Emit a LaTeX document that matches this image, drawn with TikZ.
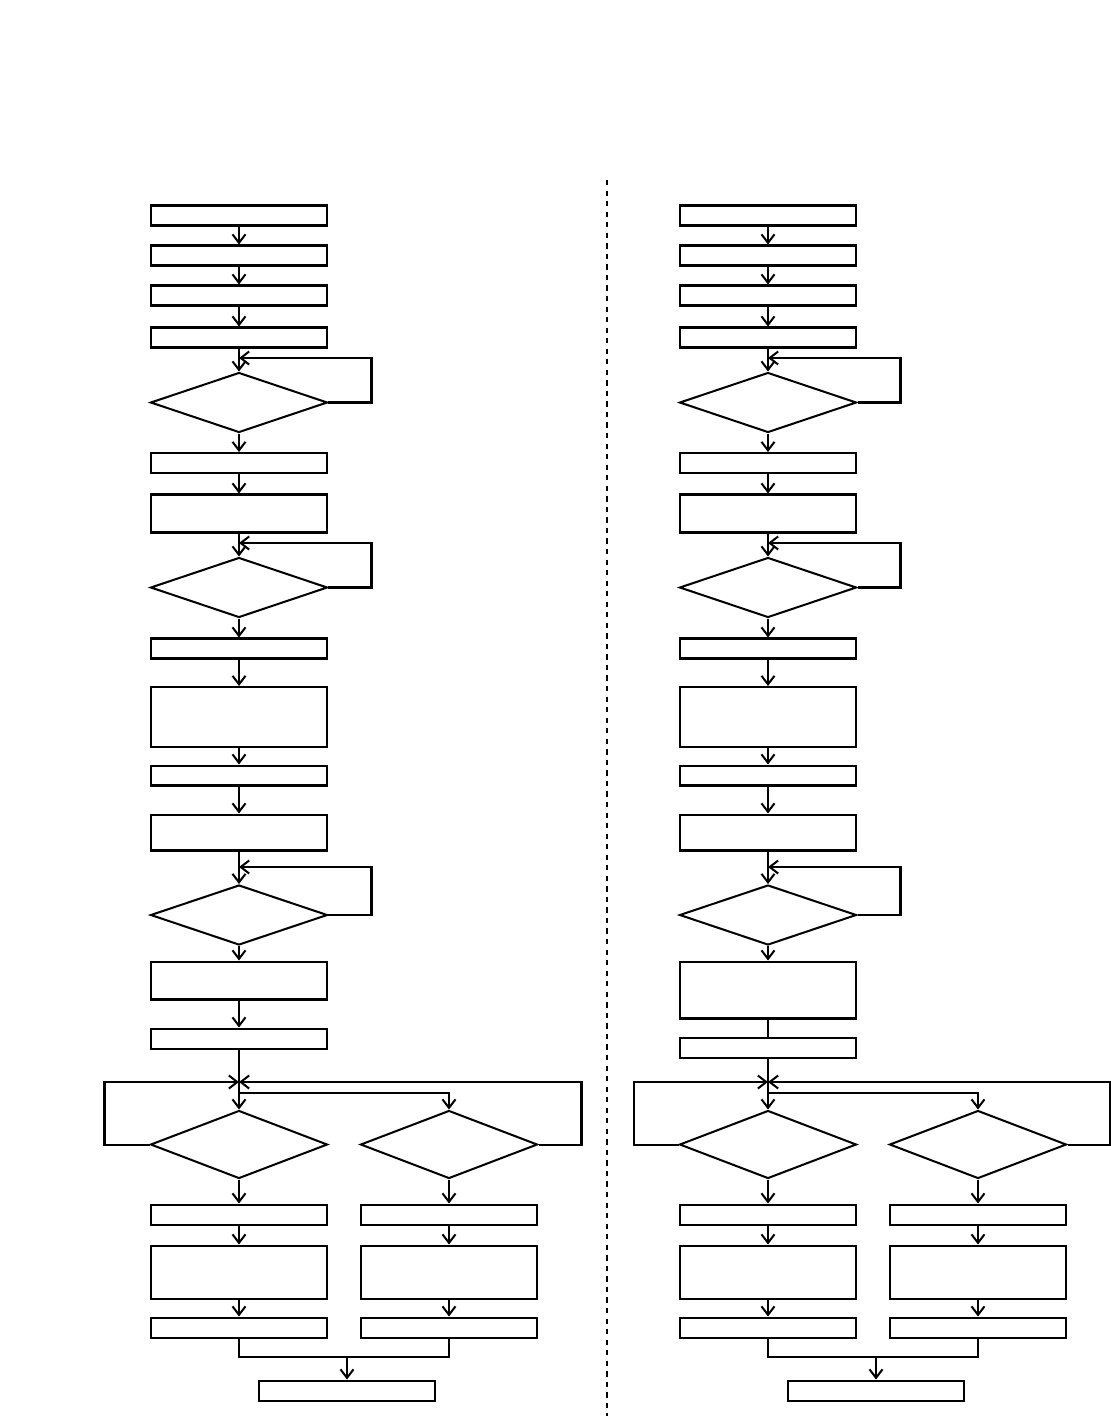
\documentclass[tikz,border=0pt]{standalone}
\usetikzlibrary{shapes.geometric, arrows.meta}

\begin{document}
\begin{tikzpicture}[
        x=0.02cm, y=-0.02cm,
        box/.style={draw, line width=1.15pt, minimum width=3.52cm, minimum height=0.4cm, inner sep=0pt},
        decision/.style={draw, diamond, line width=1.15pt, minimum width=3.54cm, minimum height=1.2cm, inner sep=0pt},
        flow/.style={-{Straight Barb[length=1.7mm, width=2.6mm]}, line width=1.15pt},
        link/.style={line width=1.15pt},
        divider/.style={dashed, line width=0.9pt}
    ]
        \path[use as bounding box] (0, 0) rectangle (1111, 1416);

        % left column
        \node[box] (L1) at (239, 215.5) {};
        \node[box] (L2) at (239, 255.5) {};
        \node[box] (L3) at (239, 295.5) {};
        \node[box] (L4) at (239, 337.5) {};
        \node[decision] (Ld1) at (239, 402.5) {};
        \node[box] (L5) at (239, 463) {};
        \node[box, minimum height=0.76cm] (L6) at (239, 513.5) {};
        \node[decision] (Ld2) at (239, 587.5) {};
        \node[box] (L7) at (239, 648.5) {};
        \node[box, minimum height=1.2cm] (L8) at (239, 717) {};
        \node[box] (L9) at (239, 775.5) {};
        \node[box, minimum height=0.72cm] (L10) at (239, 832.5) {};
        \node[decision] (Ld3) at (239, 915) {};
        \node[box, minimum height=0.76cm] (L11) at (239, 980.5) {};
        \node[box] (L12) at (239, 1038.5) {};
        \node[decision, minimum height=1.36cm] (Ld4) at (239, 1144.5) {};
        \node[decision, minimum height=1.36cm] (Ld5) at (449, 1144.5) {};
        \node[box] (La1) at (239, 1214.5) {};
        \node[box, minimum height=1.06cm] (La2) at (239, 1272) {};
        \node[box] (La3) at (239, 1327.5) {};
        \node[box] (Lb1) at (449, 1214.5) {};
        \node[box, minimum height=1.06cm] (Lb2) at (449, 1272) {};
        \node[box] (Lb3) at (449, 1327.5) {};
        \node[box] (Lend) at (347, 1390.5) {};

        \coordinate (Lj1) at (239, 358);
        \coordinate (Lj2) at (239, 543);
        \coordinate (Lj3) at (239, 867);
        \coordinate (Lm) at (239, 1082);
        \coordinate (Lf) at (239, 1093);
        \coordinate (Lg) at (347, 1357);

        \draw[flow] (L1) -- (L2);
        \draw[flow] (L2) -- (L3);
        \draw[flow] (L3) -- (L4);
        \draw[flow] (L4) -- (Ld1);
        \draw[flow] (Ld1.east) -- ++(43, 0) |- (Lj1);
        \draw[flow] (Ld1) -- (L5);
        \draw[flow] (L5) -- (L6);
        \draw[flow] (L6) -- (Ld2);
        \draw[flow] (Ld2.east) -- ++(43, 0) |- (Lj2);
        \draw[flow] (Ld2) -- (L7);
        \draw[flow] (L7) -- (L8);
        \draw[flow] (L8) -- (L9);
        \draw[flow] (L9) -- (L10);
        \draw[flow] (L10) -- (Ld3);
        \draw[flow] (Ld3.east) -- ++(43, 0) |- (Lj3);
        \draw[flow] (Ld3) -- (L11);
        \draw[flow] (L11) -- (L12);
        \draw[flow] (L12) -- (Ld4);
        \draw[flow] (Ld4.west) -- ++(-45, 0) |- (Lm);
        \draw[flow] (Ld5.east) -- ++(43, 0) |- (Lm);
        \draw[flow] (Lf) -| (Ld5.north);
        \draw[flow] (Ld4) -- (La1);
        \draw[flow] (La1) -- (La2);
        \draw[flow] (La2) -- (La3);
        \draw[flow] (Ld5) -- (Lb1);
        \draw[flow] (Lb1) -- (Lb2);
        \draw[flow] (Lb2) -- (Lb3);
        \draw[link] (La3.south) |- (Lg) -| (Lb3.south);
        \draw[flow] (Lg) -- (Lend);

        % separator
        \coordinate (top) at (607, 180);
        \coordinate (bottom) at (607, 1416);
        \draw[divider] (top) -- (bottom);

        % right column
        \node[box] (R1) at (768, 215.5) {};
        \node[box] (R2) at (768, 255.5) {};
        \node[box] (R3) at (768, 295.5) {};
        \node[box] (R4) at (768, 337.5) {};
        \node[decision] (Rd1) at (768, 402.5) {};
        \node[box] (R5) at (768, 463) {};
        \node[box, minimum height=0.76cm] (R6) at (768, 513.5) {};
        \node[decision] (Rd2) at (768, 587.5) {};
        \node[box] (R7) at (768, 648.5) {};
        \node[box, minimum height=1.2cm] (R8) at (768, 717) {};
        \node[box] (R9) at (768, 775.5) {};
        \node[box, minimum height=0.72cm] (R10) at (768, 832.5) {};
        \node[decision] (Rd3) at (768, 915) {};
        \node[box, minimum height=1.14cm] (R11) at (768, 990) {};
        \node[box] (R12) at (768, 1047.5) {};
        \node[decision, minimum height=1.36cm] (Rd4) at (768, 1144.5) {};
        \node[decision, minimum height=1.36cm] (Rd5) at (978, 1144.5) {};
        \node[box] (Ra1) at (768, 1214.5) {};
        \node[box, minimum height=1.06cm] (Ra2) at (768, 1272) {};
        \node[box] (Ra3) at (768, 1327.5) {};
        \node[box] (Rb1) at (978, 1214.5) {};
        \node[box, minimum height=1.06cm] (Rb2) at (978, 1272) {};
        \node[box] (Rb3) at (978, 1327.5) {};
        \node[box] (Rend) at (876, 1390.5) {};

        \coordinate (Rj1) at (768, 358);
        \coordinate (Rj2) at (768, 543);
        \coordinate (Rj3) at (768, 867);
        \coordinate (Rm) at (768, 1082);
        \coordinate (Rf) at (768, 1093);
        \coordinate (Rg) at (876, 1357);

        \draw[flow] (R1) -- (R2);
        \draw[flow] (R2) -- (R3);
        \draw[flow] (R3) -- (R4);
        \draw[flow] (R4) -- (Rd1);
        \draw[flow] (Rd1.east) -- ++(43, 0) |- (Rj1);
        \draw[flow] (Rd1) -- (R5);
        \draw[flow] (R5) -- (R6);
        \draw[flow] (R6) -- (Rd2);
        \draw[flow] (Rd2.east) -- ++(43, 0) |- (Rj2);
        \draw[flow] (Rd2) -- (R7);
        \draw[flow] (R7) -- (R8);
        \draw[flow] (R8) -- (R9);
        \draw[flow] (R9) -- (R10);
        \draw[flow] (R10) -- (Rd3);
        \draw[flow] (Rd3.east) -- ++(43, 0) |- (Rj3);
        \draw[flow] (Rd3) -- (R11);
        \draw[link] (R11) -- (R12);
        \draw[flow] (R12) -- (Rd4);
        \draw[flow] (Rd4.west) -- ++(-45, 0) |- (Rm);
        \draw[flow] (Rd5.east) -- ++(43, 0) |- (Rm);
        \draw[flow] (Rf) -| (Rd5.north);
        \draw[flow] (Rd4) -- (Ra1);
        \draw[flow] (Ra1) -- (Ra2);
        \draw[flow] (Ra2) -- (Ra3);
        \draw[flow] (Rd5) -- (Rb1);
        \draw[flow] (Rb1) -- (Rb2);
        \draw[flow] (Rb2) -- (Rb3);
        \draw[link] (Ra3.south) |- (Rg) -| (Rb3.south);
        \draw[flow] (Rg) -- (Rend);
    \end{tikzpicture}
\end{document}
